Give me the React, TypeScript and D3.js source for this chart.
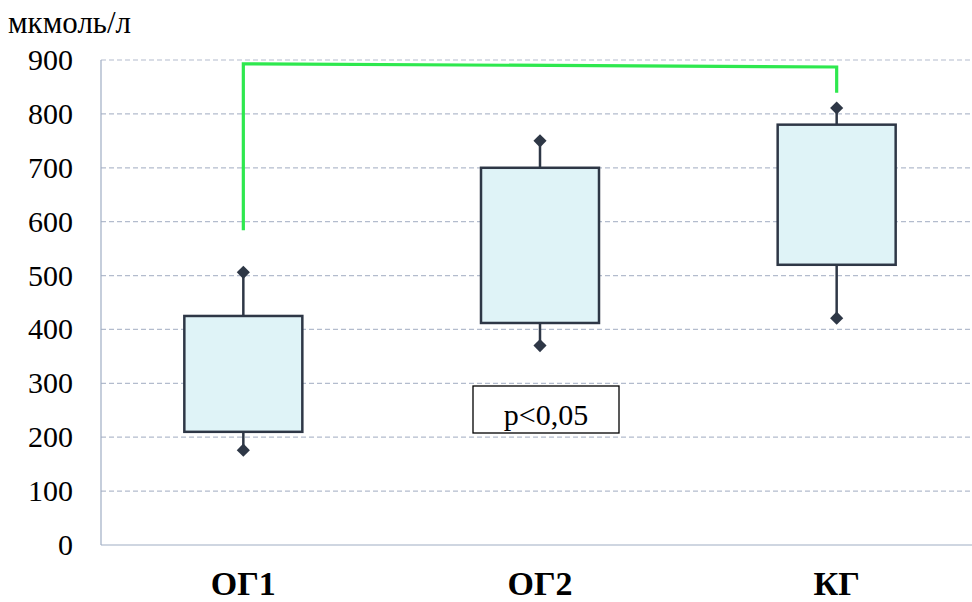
import React, { useEffect, useRef } from 'react';
import * as d3 from 'd3';

const groups = ['ОГ1', 'ОГ2', 'КГ'];
const q1 = [210, 412, 520];
const q3 = [425, 700, 780];
const lows = [176, 370, 421];
const highs = [506, 750, 811];
const yTicks = [0, 100, 200, 300, 400, 500, 600, 700, 800, 900];
const bracket = { fromGroup: 'ОГ1', toGroup: 'КГ', startLeft: 584, topLeft: 893, topRight: 887, endRight: 839 };
const note = 'p<0,05';
const unit = 'мкмоль/л';

const App = () => {
  const ref = useRef<SVGSVGElement>(null);
  const width = 972;
  const height = 602;

  useEffect(() => {
    const svg = d3.select(ref.current);
    svg.selectAll('*').remove();

    const axisX = 101;
    const x = d3.scaleBand().domain(groups).range([95, 985]).padding(0);
    const y = d3.scaleLinear().domain([0, 900]).range([545, 60]);
    const boxW = 118;
    const serif = "'Liberation Serif', 'DejaVu Serif', serif";

    svg.append('rect').attr('width', width).attr('height', height).attr('fill', '#fff');

    // grid
    svg.append('g')
      .selectAll('line')
      .data(yTicks.filter((t) => t > 0))
      .enter()
      .append('line')
      .attr('x1', axisX)
      .attr('x2', width)
      .attr('y1', (d) => y(d))
      .attr('y2', (d) => y(d))
      .attr('stroke', '#b3bccd')
      .attr('stroke-width', 1.2)
      .attr('stroke-dasharray', '5,3');

    // axes lines
    svg.append('line')
      .attr('x1', axisX).attr('x2', axisX)
      .attr('y1', y(900)).attr('y2', y(0))
      .attr('stroke', '#9fadc4').attr('stroke-width', 1.2);
    svg.append('line')
      .attr('x1', axisX).attr('x2', width)
      .attr('y1', y(0)).attr('y2', y(0))
      .attr('stroke', '#9fadc4').attr('stroke-width', 1.2);

    // y labels
    svg.append('g')
      .selectAll('text')
      .data(yTicks)
      .enter()
      .append('text')
      .attr('x', 73)
      .attr('y', (d) => y(d) + 10)
      .attr('text-anchor', 'end')
      .style('font-family', serif)
      .style('font-size', '30px')
      .attr('fill', '#000')
      .text((d) => d);

    svg.append('text')
      .attr('x', 8).attr('y', 33)
      .style('font-family', serif)
      .style('font-size', '31px')
      .text(unit);

    // x labels
    svg.append('g')
      .selectAll('text')
      .data(groups)
      .enter()
      .append('text')
      .attr('x', (d) => (x(d) as number) + x.bandwidth() / 2)
      .attr('y', 595)
      .attr('text-anchor', 'middle')
      .style('font-family', serif)
      .style('font-weight', 'bold')
      .style('font-size', '34px')
      .text((d) => d);

    const rows = groups.map((g, i) => ({ g, q1: q1[i], q3: q3[i], lo: lows[i], hi: highs[i] }));
    const cx = (g: string) => (x(g) as number) + x.bandwidth() / 2;
    const stroke = '#2e3746';

    const boxes = svg.append('g').selectAll('g').data(rows).enter().append('g');

    boxes.append('line')
      .attr('x1', (d) => cx(d.g)).attr('x2', (d) => cx(d.g))
      .attr('y1', (d) => y(d.hi)).attr('y2', (d) => y(d.q3))
      .attr('stroke', stroke).attr('stroke-width', 2.5);
    boxes.append('line')
      .attr('x1', (d) => cx(d.g)).attr('x2', (d) => cx(d.g))
      .attr('y1', (d) => y(d.q1)).attr('y2', (d) => y(d.lo))
      .attr('stroke', stroke).attr('stroke-width', 2.5);

    boxes.append('rect')
      .attr('x', (d) => cx(d.g) - boxW / 2)
      .attr('width', boxW)
      .attr('y', (d) => y(d.q3))
      .attr('height', (d) => y(d.q1) - y(d.q3))
      .attr('fill', '#dff3f7')
      .attr('stroke', stroke)
      .attr('stroke-width', 2.5);

    const diamond = d3.symbol().type(d3.symbolDiamond2).size(110);
    ['hi', 'lo'].forEach((k) => {
      boxes.append('path')
        .attr('d', diamond)
        .attr('transform', (d: any) => `translate(${cx(d.g)},${y(d[k])})`)
        .attr('fill', stroke);
    });

    // significance bracket
    const bx1 = cx(bracket.fromGroup);
    const bx2 = cx(bracket.toGroup);
    svg.append('path')
      .attr('d', d3.line()([
        [bx1, y(bracket.startLeft)],
        [bx1, y(bracket.topLeft)],
        [bx2, y(bracket.topRight)],
        [bx2, y(bracket.endRight)],
      ]))
      .attr('fill', 'none')
      .attr('stroke', '#2ee84e')
      .attr('stroke-width', 3.2);

    // note box
    const nx = cx('ОГ2') + 6;
    svg.append('rect')
      .attr('x', nx - 73).attr('y', 386)
      .attr('width', 146).attr('height', 47)
      .attr('fill', '#fff').attr('stroke', '#000').attr('stroke-width', 1.3);
    svg.append('text')
      .attr('x', nx).attr('y', 425)
      .attr('text-anchor', 'middle')
      .style('font-family', serif)
      .style('font-size', '30px')
      .text(note);
  }, []);

  return <svg ref={ref} width={width} height={height} style={{ display: 'block', position: 'absolute', left: 0, top: 0 }}></svg>;
};

export default App;
